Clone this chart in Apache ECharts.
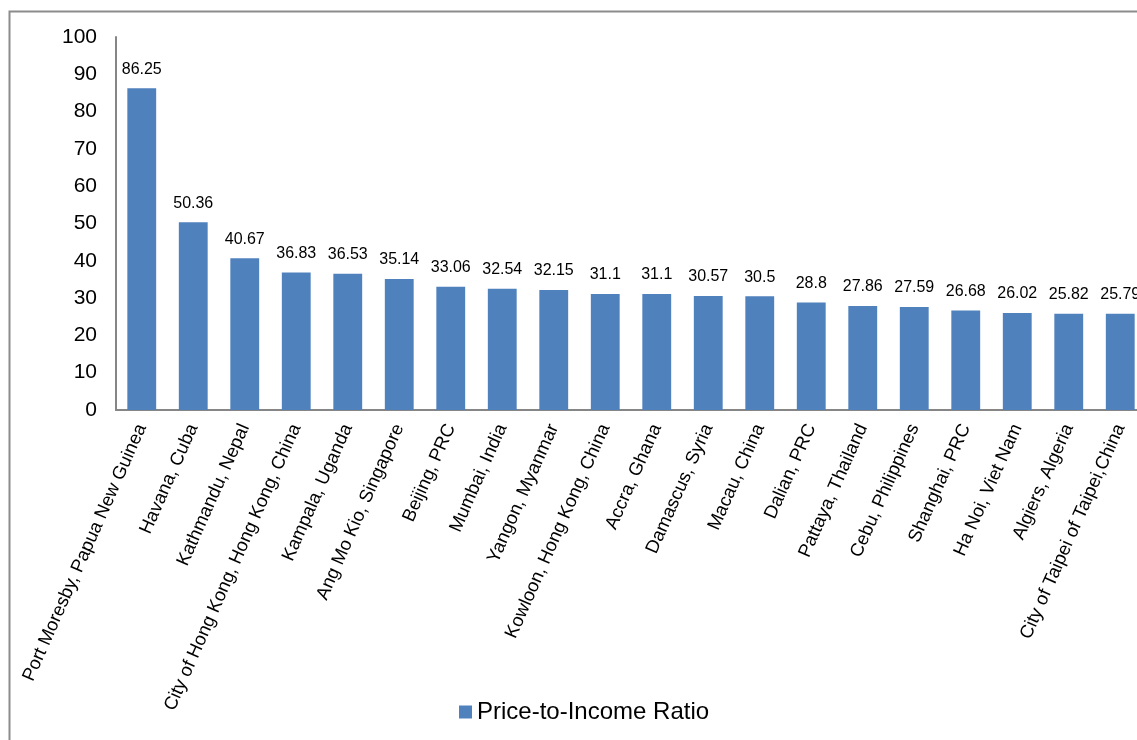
<!DOCTYPE html>
<html>
<head>
<meta charset="utf-8">
<script src="https://cdn.jsdelivr.net/npm/echarts@6/dist/echarts.min.js"></script>
<style>
html,body{margin:0;padding:0;overflow:hidden;background:#fff;}
#chart{width:1170px;height:740px;}
</style>
</head>
<body>
<div id="chart"></div>
<script>
const categories = [
  "Port Moresby, Papua New Guinea", "Havana, Cuba", "Kathmandu, Nepal",
  "City of Hong Kong, Hong Kong, China", "Kampala, Uganda", "Ang Mo Kio, Singapore",
  "Beijing, PRC", "Mumbai, India", "Yangon, Myanmar", "Kowloon, Hong Kong, China",
  "Accra, Ghana", "Damascus, Syria", "Macau, China", "Dalian, PRC",
  "Pattaya, Thailand", "Cebu, Philippines", "Shanghai, PRC", "Ha Noi, Viet Nam",
  "Algiers, Algeria", "City of Taipei of Taipei,China"
];
const ratioValues = [86.25, 50.36, 40.67, 36.83, 36.53, 35.14, 33.06, 32.54, 32.15, 31.1,
  31.1, 30.57, 30.5, 28.8, 27.86, 27.59, 26.68, 26.02, 25.82, 25.79];
const seriesName = "Price-to-Income Ratio";

const chart = echarts.init(document.getElementById('chart'));
const font = '"Liberation Sans", Arial, sans-serif';
chart.setOption({
  animation: false,
  textStyle: { fontFamily: font },
  graphic: [{
    type: 'rect',
    shape: { x: 9.5, y: 11.5, width: 1400, height: 900 },
    style: { fill: 'none', stroke: '#8c8c8c', lineWidth: 2 },
    silent: true
  }],
  legend: {
    data: [seriesName],
    left: 454, top: 695,
    itemWidth: 13, itemHeight: 13, itemGap: 5,
    icon: 'rect',
    textStyle: { fontSize: 24, color: '#000', fontFamily: font, padding: [0, 0, 0, 0] }
  },
  grid: { left: 116, top: 37, width: 1030, height: 373, containLabel: false },
  xAxis: {
    type: 'category',
    data: categories,
    axisLine: { lineStyle: { color: '#868686', width: 2 } },
    axisTick: { show: false },
    axisLabel: { rotate: 66, interval: 0, fontSize: 18.5, color: '#000', fontFamily: font, margin: 15 }
  },
  yAxis: {
    type: 'value',
    min: 0, max: 100, interval: 10,
    splitLine: { show: false },
    axisLine: { show: true, lineStyle: { color: '#868686', width: 2 } },
    axisTick: { show: false },
    axisLabel: { fontSize: 21, color: '#000', fontFamily: font, margin: 19 }
  },
  series: [{
    name: seriesName,
    type: 'bar',
    data: ratioValues,
    barCategoryGap: '44%',
    itemStyle: { color: '#4F81BD' },
    label: { show: true, position: 'top', distance: 11, fontSize: 16, color: '#000', fontFamily: font }
  }]
});
</script>
</body>
</html>
